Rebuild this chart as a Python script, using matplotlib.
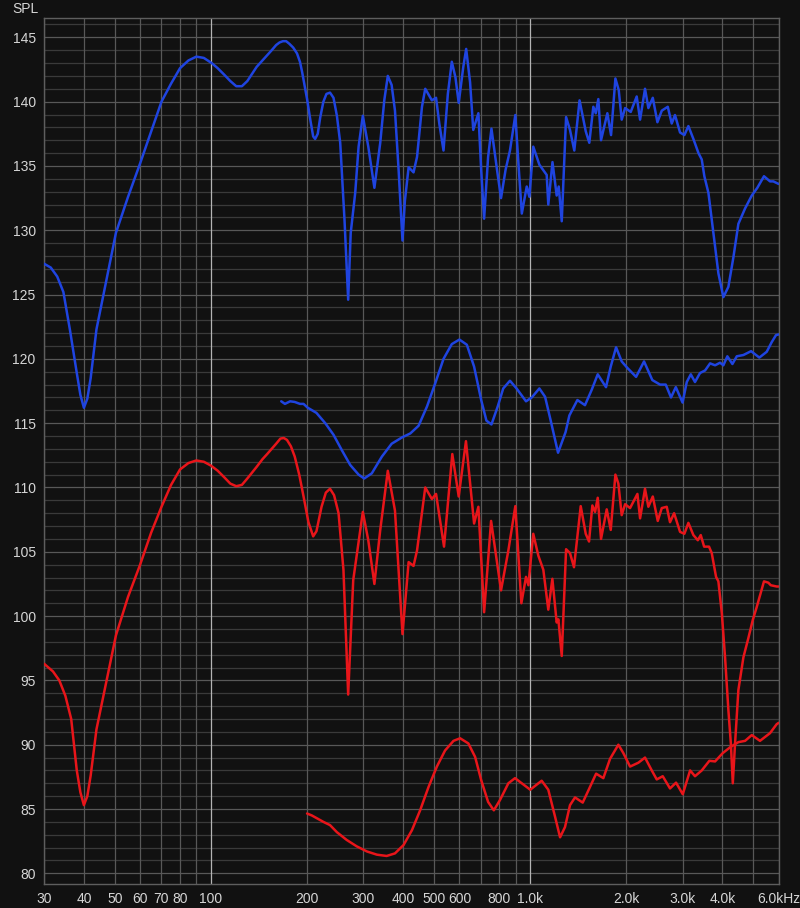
import matplotlib
matplotlib.use('Agg')
import matplotlib.pyplot as plt
from matplotlib.ticker import NullLocator

# ---------------- data ----------------
blue_top_f = [30, 31.5, 33, 34.5, 36.2, 38, 39, 40, 41, 42, 43.8, 47.1, 50.4, 55, 60, 65, 70, 75, 80, 85, 90, 95,
              100.5, 105, 110, 115, 120, 125, 130, 139, 145, 150, 155, 160, 164, 168, 172, 176, 181, 186,
              190, 193, 196, 200, 205, 209, 212, 216, 220, 225, 230, 236, 242, 248, 254,
              262, 269, 274, 283, 290, 299, 311, 325, 339, 349, 358, 368, 377, 387, 398, 405, 416,
              431, 442, 458, 469, 492, 507, 519, 535, 552, 568, 583, 597, 617, 630, 648, 663, 688,
              702, 717, 738, 756, 787, 810, 837, 864, 898, 920, 941, 975, 994, 1022, 1068, 1126,
              1139, 1174, 1210, 1228, 1255, 1295, 1332, 1374, 1427, 1492, 1531, 1576, 1604, 1634,
              1666, 1744, 1791, 1848, 1893, 1934, 1982, 2064, 2155, 2208, 2288, 2344, 2420, 2502,
              2582, 2696, 2774, 2840, 2946, 3039, 3128, 3243, 3364, 3445, 3510, 3615, 3747, 3884,
              4026, 4174, 4328, 4486, 4709, 4941, 5143, 5396, 5636, 5771, 6000]
blue_top_v = [127.4, 127.1, 126.4, 125.2, 122.2, 118.9, 117.2, 116.2, 116.9, 118.5, 122.3, 126.2, 129.8,
              132.6, 135.2, 137.7, 140.0, 141.4, 142.6, 143.2, 143.5, 143.4, 143.0, 142.6, 142.1, 141.6,
              141.2, 141.2, 141.6, 142.7, 143.2, 143.6, 144.0, 144.4, 144.6, 144.7, 144.7, 144.5, 144.2,
              143.75, 143.1, 142.3, 141.4, 140.2, 138.5, 137.3, 137.1, 137.5, 138.8, 140.0, 140.6, 140.7,
              140.3, 138.9, 136.8, 130.8, 124.6,
              129.8, 132.9, 136.5, 138.9, 136.5, 133.3, 136.8, 140.1, 142.0, 141.3, 139.3, 134.7,
              129.2, 132.3, 134.9, 134.5, 135.7, 139.6, 141.0, 140.1, 140.3, 138.3, 136.2, 140.6,
              143.1, 141.9, 139.9, 142.7, 144.1, 141.5, 137.8, 139.1, 134.7, 130.9, 135.7, 137.9,
              134.7, 132.5, 134.7, 136.2, 138.96, 134.9, 131.3, 133.4, 132.6, 136.5, 135.1, 134.3,
              132.0, 135.3, 132.7, 133.4, 130.7, 138.8, 137.8, 136.2, 140.1, 137.7, 136.8, 139.6,
              139.1, 140.2, 137.0, 139.1, 137.4, 141.8, 140.9, 138.6, 139.5, 139.2, 140.4, 138.6,
              141.0, 139.5, 140.3, 138.4, 139.3, 139.6, 138.3, 138.96, 137.6, 137.4, 138.1, 137.1,
              136.0, 135.5, 134.2, 132.9, 129.8, 126.65, 124.8, 125.6, 127.9, 130.5, 131.7, 132.7,
              133.3, 134.2, 133.8, 133.8, 133.6]

blue_low_f = [166, 170.5, 177, 183, 190, 195, 201, 214, 228, 242, 257, 273, 290, 302, 319, 343, 368,
              397, 421, 447, 475, 504, 535, 568, 600, 633, 667, 702, 729, 756, 791, 823, 864, 906,
              970, 1011, 1068, 1113, 1159, 1222, 1290, 1326, 1405, 1484, 1558, 1627, 1727, 1787,
              1857, 1934, 2014, 2145, 2272, 2412, 2550, 2657, 2760, 2857, 3000, 3092, 3183, 3281,
              3402, 3529, 3658, 3792, 3931, 4026, 4143, 4297, 4435, 4652, 4917, 5218, 5503, 5705,
              5885, 6000]
blue_low_v = [116.7, 116.5, 116.7, 116.65, 116.5, 116.5, 116.2, 115.8, 115.0, 114.1, 112.9, 111.75,
              111.0, 110.7, 111.1, 112.4, 113.4, 113.9, 114.2, 114.8, 116.3, 118.1, 120.0, 121.15,
              121.5, 121.1, 119.4, 116.8, 115.2, 114.9, 116.3, 117.7, 118.3, 117.7, 116.7, 117.0,
              117.7, 117.05, 115.2, 112.7, 114.3, 115.6, 116.8, 116.4, 117.6, 118.8, 117.8, 119.4,
              120.9, 119.8, 119.3, 118.6, 119.8, 118.35, 118.0, 118.0, 117.0, 117.8, 116.6, 118.2,
              118.8, 118.2, 118.9, 119.1, 119.65, 119.5, 119.7, 119.5, 120.2, 119.6, 120.2, 120.3,
              120.6, 120.1, 120.55, 121.3, 121.85, 121.9]

red_top_f = [30, 32, 33.5, 35, 36.5, 38, 39, 40, 41, 42, 43.8, 47.1, 50.4, 55, 60, 65, 70, 75, 80, 85, 90, 95,
             100, 105, 110, 115, 120, 125, 130, 139, 145, 150, 155, 160, 165, 169, 173, 178, 183, 189,
             195, 202, 209, 214, 222, 229, 236, 243, 251, 260, 269, 279,
             299, 311, 325, 339, 358, 377, 398, 416, 431, 442, 469, 492, 507, 537, 570, 597, 629, 667,
             688, 717, 754, 810, 854, 898, 938, 970, 987, 1022, 1060, 1099, 1139, 1173, 1210, 1225,
             1255, 1295, 1332, 1371, 1439, 1492, 1528, 1565, 1596, 1627, 1666, 1736, 1787, 1848,
             1888, 1934, 1982, 2054, 2166, 2208, 2288, 2344, 2420, 2508, 2582, 2676, 2740, 2822,
             2946, 3039, 3128, 3243, 3348, 3420, 3504, 3630, 3702, 3819, 3884, 3982, 4075, 4174,
             4249, 4309, 4380, 4486, 4652, 4822, 4977, 5120, 5270, 5396, 5567, 5666, 5915, 6000]
red_top_v = [96.3, 95.7, 95.0, 93.8, 92.0, 88.0, 86.3, 85.3, 86.0, 87.6, 91.2, 95.0, 98.5, 101.5, 104.0,
             106.5, 108.5, 110.2, 111.4, 111.9, 112.1, 112.0, 111.7, 111.3, 110.8, 110.3, 110.1, 110.2,
             110.7, 111.6, 112.2, 112.6, 113.0, 113.4, 113.8, 113.85, 113.7, 113.2, 112.4, 111.0,
             109.3, 107.3, 106.2, 106.6, 108.5, 109.6, 109.9, 109.4, 108.0, 103.6, 93.9, 102.8,
             108.1, 105.9, 102.5, 106.7, 111.3, 108.2, 98.6, 104.2, 103.9, 105.1, 110.0, 109.1, 109.5,
             105.4, 112.6, 109.3, 113.6, 107.2, 108.5, 100.3, 107.4, 102.0, 105.1, 108.55, 101.0,
             103.05, 102.4, 106.4, 104.7, 103.6, 100.5, 102.9, 99.5, 99.75, 96.9, 105.2, 104.9,
             103.8, 108.55, 106.4, 105.8, 108.6, 108.1, 109.2, 106.0, 108.3, 106.7, 111.0, 110.3,
             107.85, 108.7, 108.4, 109.5, 107.6, 109.9, 108.5, 109.3, 107.4, 108.4, 108.5, 107.3,
             108.0, 106.55, 106.4, 107.25, 106.3, 105.9, 106.3, 105.4, 105.4, 104.9, 103.05, 102.7,
             100.2, 96.8, 92.7, 90.1, 87.0, 90.1, 94.25, 96.8, 98.3, 99.7, 100.7, 101.8, 102.7,
             102.6, 102.4, 102.3, 102.3]

red_low_f = [200, 207, 214, 225, 236, 248, 266, 286, 308, 331, 355, 377, 401, 426, 452, 480, 510, 541,
             575, 603, 640, 672, 702, 738, 769, 804, 854, 896, 941, 1000, 1048, 1086, 1139, 1196,
             1240, 1285, 1332, 1381, 1460, 1531, 1608, 1694, 1778, 1888, 1957, 2054, 2181, 2288,
             2402, 2490, 2600, 2740, 2862, 3004, 3167, 3281, 3445, 3640, 3792, 4009, 4226, 4486,
             4709, 4941, 5243, 5435, 5636, 5915, 6000]
red_low_v = [84.65, 84.5, 84.3, 84.0, 83.75, 83.2, 82.6, 82.1, 81.7, 81.45, 81.35, 81.55, 82.2, 83.35,
             84.9, 86.7, 88.3, 89.55, 90.3, 90.5, 90.1, 89.05, 87.25, 85.55, 84.9, 85.7, 87.0, 87.4,
             87.0, 86.5, 86.9, 87.2, 86.5, 84.4, 82.8, 83.6, 85.3, 85.9, 85.5, 86.6, 87.75, 87.4,
             88.9, 90.0, 89.35, 88.3, 88.6, 89.0, 88.0, 87.3, 87.55, 86.6, 87.05, 86.15, 88.0,
             87.55, 88.0, 88.75, 88.7, 89.35, 89.8, 90.2, 90.3, 90.75, 90.3, 90.6, 90.9, 91.6, 91.7]

x_ticks = [30, 40, 50, 60, 70, 80, 100, 200, 300, 400, 500, 600, 800, 1000, 2000, 3000, 4000, 6000]
x_tick_labels = ['30', '40', '50', '60', '70', '80', '100', '200', '300', '400', '500', '600',
                 '800', '1.0k', '2.0k', '3.0k', '4.0k', '6.0kHz']
x_grid = [30, 40, 50, 60, 70, 80, 90, 100, 200, 300, 400, 500, 600, 700, 800, 900, 1000,
          2000, 3000, 4000, 5000, 6000]
x_bright = [100, 1000]
y_ticks = [80, 85, 90, 95, 100, 105, 110, 115, 120, 125, 130, 135, 140, 145]

# ---------------- drawing ----------------
plt.rcParams['font.family'] = ['Liberation Sans', 'DejaVu Sans']
BG = '#111111'
TXT = '#d6d6d6'
fig = plt.figure(figsize=(8, 9.08), dpi=100, facecolor=BG)
W, H = 800.0, 908.0
L, R, T, B = 44.0, 778.7, 18.3, 884.0
ax = fig.add_axes([L / W, 1 - B / H, (R - L) / W, (B - T) / H])
ax.set_facecolor(BG)
ax.set_xscale('log')
ax.set_xlim(30, 6000)
ax.set_ylim(79.17, 146.48)

for v in range(80, 147):
    ax.axhline(v, color='#585858' if v % 5 == 0 else '#3a3a3a', lw=0.9, zorder=1)
for f in x_grid:
    ax.axvline(f, color='#b4b4b4' if f in x_bright else '#585858', lw=0.9, zorder=1)

for s in ax.spines.values():
    s.set_color('#5e5e5e')
    s.set_linewidth(1.0)

BLUE = '#1f44e0'
RED = '#e8151a'
for xs, ys, c in [(blue_top_f, blue_top_v, BLUE), (blue_low_f, blue_low_v, BLUE),
                  (red_top_f, red_top_v, RED), (red_low_f, red_low_v, RED)]:
    ax.plot(xs, ys, color=c, lw=1.8, zorder=3, solid_joinstyle='round', solid_capstyle='round')

ax.set_xticks(x_ticks)
ax.set_xticklabels(x_tick_labels)
ax.xaxis.set_minor_locator(NullLocator())
ax.set_yticks(y_ticks)
ax.yaxis.set_minor_locator(NullLocator())
ax.tick_params(axis='both', length=0, colors=TXT, labelsize=10)
ax.tick_params(axis='x', pad=6)
ax.tick_params(axis='y', pad=6)

fig.text(39 / W, 1 - 2 / H, 'SPL', ha='right', va='top', color=TXT, fontsize=10)

fig.savefig('out.png', dpi=100, facecolor=BG)
